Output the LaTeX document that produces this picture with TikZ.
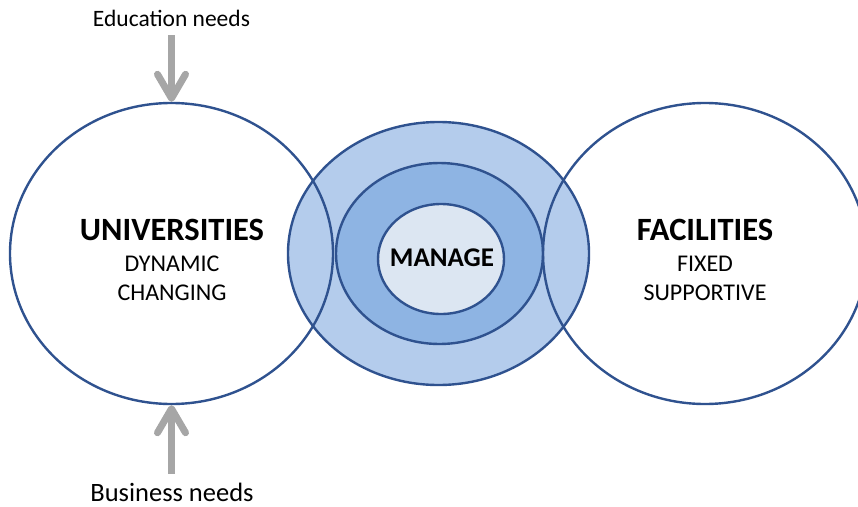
\documentclass[tikz,border=0pt]{standalone}
\usepackage{fontspec}
\setmainfont{Carlito}
\usepackage{tikz}
\usetikzlibrary{shapes.geometric,arrows.meta}

\definecolor{ringline}{RGB}{47,82,143}
\definecolor{ringouter}{RGB}{180,204,236}
\definecolor{ringmid}{RGB}{142,180,227}
\definecolor{ringinner}{RGB}{220,230,242}
\definecolor{needgray}{RGB}{166,166,166}

\begin{document}
\begin{tikzpicture}[x=1pt,y=-1pt,
      ring/.style={ellipse,draw=ringline,line width=2.4pt,inner sep=0pt},
      title/.style={font=\fontsize{32.5}{35}\selectfont\bfseries,inner sep=0pt},
      sub/.style={font=\fontsize{24}{29}\selectfont,align=center,inner sep=0pt},
      need/.style={font=\fontsize{23.5}{26}\selectfont,inner sep=0pt},
      needarrow/.style={draw=needgray,line width=7pt,
        -{Straight Barb[round,length=24pt,width=28pt]}}]
    \useasboundingbox (0,0) rectangle (858,506);
    \node[ring,fill=ringouter,minimum width=301pt,minimum height=263pt] (outer) at (438.5,253.5) {};
    \node[ring,fill=ringmid,minimum width=207pt,minimum height=181pt] (middle) at (439.5,253.5) {};
    \node[ring,fill=ringinner,minimum width=126pt,minimum height=110pt] (inner) at (441,259) {};
    \node[ring,minimum width=323pt,minimum height=301pt] (univ) at (171.5,253.5) {};
    \node[ring,minimum width=324pt,minimum height=301pt] (fac) at (705,253.5) {};
    \node[title,font=\fontsize{27}{30}\selectfont\bfseries] (manage) at (442,258) {MANAGE};
    \node[title] (unititle) at (172,230) {UNIVERSITIES};
    \node[sub] (unisub) at (172,278.5) {DYNAMIC\\CHANGING};
    \node[title] (factitle) at (705,230) {FACILITIES};
    \node[sub] (facsub) at (705,278.5) {FIXED\\SUPPORTIVE};
    \node[need] (edu) at (171.5,18) {Education needs};
    \node[need,font=\fontsize{26.5}{29}\selectfont] (bus) at (172,492) {Business needs};
    \draw[needarrow,shorten <=9pt] (edu.south -| univ.north) -- (univ.north);
    \draw[needarrow,shorten <=9pt] (bus.north -| univ.south) -- (univ.south);
\end{tikzpicture}
\end{document}
